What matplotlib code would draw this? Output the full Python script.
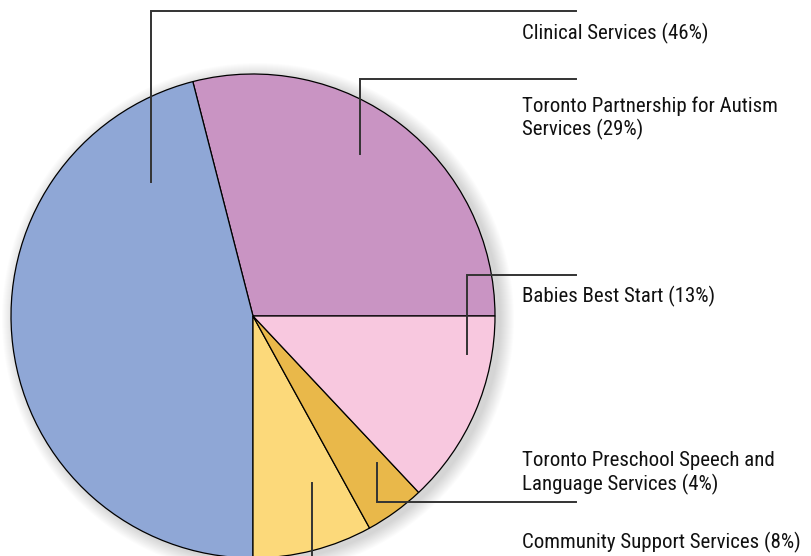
import matplotlib.pyplot as plt
from matplotlib.patches import Circle
import matplotlib.font_manager as fm

# data
labels = ["Toronto Partnership for Autism\nServices (29%)", "Clinical Services (46%)",
          "Community Support Services (8%)", "Toronto Preschool Speech and\nLanguage Services (4%)",
          "Babies Best Start (13%)"]
shares = [29, 46, 8, 4, 13]
colors = ["#C994C3", "#8FA7D6", "#FCD97A", "#E9B84A", "#F8C8DF"]

# layout (pixel coordinates, y from top)
W, H = 812, 556
cx, cy, R = 253, 316, 242
# leader: (x of vertical, y start in pie, y elbow), text top
leaders = [
    (360, 154, 79, 96),
    (151, 182, 11, 23),
    (312, 483, 562, 532),
    (377, 463, 502, 451),
    (467, 354, 275, 286),
]
line_end = 576
text_x = 522

names = {f.name for f in fm.fontManager.ttflist}
fam = None
for cand in ["Liberation Sans Narrow", "DejaVu Sans Condensed", "Roboto Condensed", "Roboto"]:
    if cand in names:
        fam = [cand, "DejaVu Sans"]
        break
if fam is None:
    fam = ["DejaVu Sans"]
fsize = 13 if fam[0] == "Roboto" else 15

fig = plt.figure(figsize=(W / 100, H / 100), dpi=100)
ax = fig.add_axes([0, 0, 1, 1])

def py(y):
    return H - y

# soft shadow on the right
for i in range(14):
    ax.add_patch(Circle((cx + 5, py(cy) - 3), R + 14 - i, color="black", alpha=0.012, lw=0, zorder=1))

wedges, _ = ax.pie(shares, colors=colors, startangle=0, counterclock=True, radius=R,
                   center=(cx, py(cy)), wedgeprops=dict(edgecolor="black", linewidth=0.9), frame=True)
for w in wedges:
    w.set_zorder(2)
ax.set_xlim(0, W)
ax.set_ylim(0, H)
ax.set_aspect("equal")
ax.axis("off")

for lab, (lx, y0, y1, ty) in zip(labels, leaders):
    ax.plot([lx, lx, line_end], [py(y0), py(y1), py(y1)], color="#333333", lw=1.4, zorder=3,
            solid_joinstyle="miter")
    ax.text(text_x, py(ty), lab, fontsize=fsize, family=fam, color="#111111", va="top", ha="left",
            linespacing=1.22, zorder=4)

fig.savefig("out.png", dpi=100)
